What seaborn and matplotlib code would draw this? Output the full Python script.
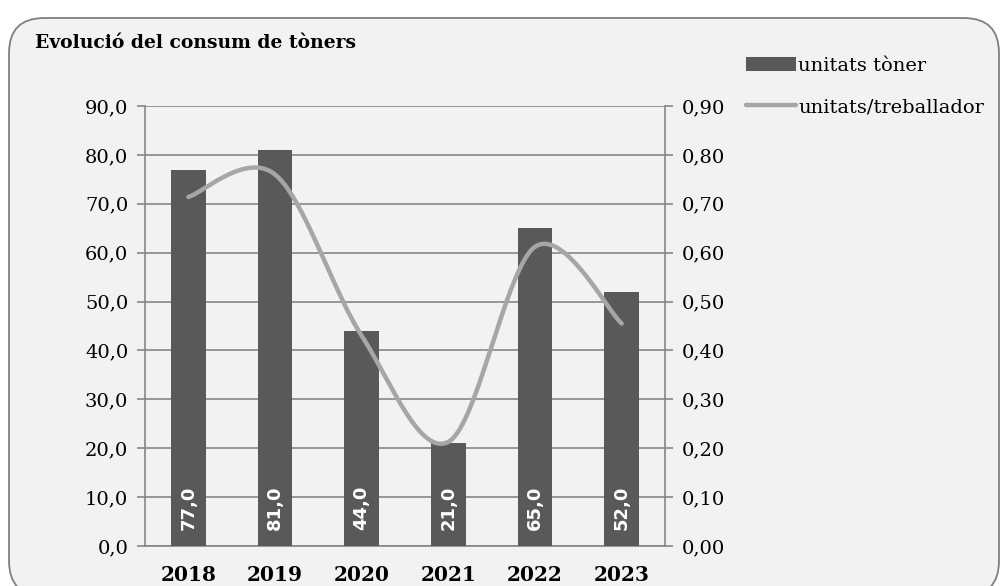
import matplotlib
matplotlib.use("Agg")
import matplotlib.pyplot as plt
from matplotlib.patches import FancyBboxPatch, Patch
from matplotlib.lines import Line2D
import seaborn as sns
import numpy as np
import pandas as pd

years = ["2018", "2019", "2020", "2021", "2022", "2023"]
toner_units = [77.0, 81.0, 44.0, 21.0, 65.0, 52.0]
units_per_worker = [0.714, 0.76, 0.43, 0.213, 0.612, 0.455]

left_ticks = np.arange(0, 91, 10)
right_ticks = np.arange(0, 0.91, 0.1)

BAR_COLOR = "#595959"
LINE_COLOR = "#a6a6a6"
GRID_COLOR = "#868686"
SERIF = "DejaVu Serif"


def smooth_curve(xs, ys, n=40):
    """Excel-like smoothed line: cubic bezier with catmull-rom tangents"""
    pts = np.column_stack([xs, ys]).astype(float)
    ext = np.vstack([pts[0], pts, pts[-1]])
    out = []
    for i in range(len(pts) - 1):
        p0, p1, p2, p3 = ext[i], ext[i + 1], ext[i + 2], ext[i + 3]
        c1 = p1 + (p2 - p0) / 6.0
        c2 = p2 - (p3 - p1) / 6.0
        t = np.linspace(0, 1, n)[:, None]
        seg = ((1 - t) ** 3) * p1 + 3 * ((1 - t) ** 2) * t * c1 \
            + 3 * (1 - t) * t ** 2 * c2 + t ** 3 * p2
        out.append(seg if i == 0 else seg[1:])
    return np.vstack(out)


sns.set_theme(style="white")
plt.rcParams["font.family"] = [SERIF, "DejaVu Sans"]
plt.rcParams["text.color"] = "black"
plt.rcParams["xtick.color"] = "black"
plt.rcParams["ytick.color"] = "black"

fig = plt.figure(figsize=(10.04, 5.86), dpi=100)
fig.patch.set_facecolor("white")

frame = FancyBboxPatch((9 / 1004, -10 / 586), 990 / 1004, 578 / 586,
                       boxstyle="round,pad=0,rounding_size=0.035",
                       transform=fig.transFigure, facecolor="#f2f2f2",
                       edgecolor="#7f7f7f", linewidth=1.3, zorder=-5,
                       mutation_aspect=1004 / 586)
fig.patches.append(frame)

ax = fig.add_axes([145 / 1004, 1 - 546 / 586, 520 / 1004, 440 / 586])
ax.set_facecolor("none")
ax.set_zorder(2)

df = pd.DataFrame({"year": years, "toner": toner_units})
sns.barplot(data=df, x="year", y="toner", color=BAR_COLOR, saturation=1,
            width=0.4, linewidth=0, ax=ax, zorder=3)
ax.set_xlim(-0.5, len(years) - 0.5)
ax.set_ylim(0, 90)
ax.set_yticks(left_ticks)
ax.set_yticklabels([f"{v:.1f}".replace(".", ",") for v in left_ticks],
                   fontsize=14)
ax.set_xlabel("")
ax.set_ylabel("")
ax.set_xticks(np.arange(len(years)))
ax.set_xticklabels(years, fontsize=14.5, fontweight="bold")
ax.tick_params(axis="x", length=0, pad=14)
ax.set_xticks(np.arange(-0.5, len(years)), minor=True)
ax.tick_params(axis="x", which="minor", length=6, color=GRID_COLOR,
               width=1.2, direction="out")
ax.tick_params(axis="y", length=6, color=GRID_COLOR, labelcolor="black",
               width=1.2, direction="out", pad=6)
ax.grid(axis="y", color=GRID_COLOR, linewidth=1.2, zorder=0)
ax.set_axisbelow(True)
for side in ["top", "right"]:
    ax.spines[side].set_visible(False)
for side in ["left", "bottom"]:
    ax.spines[side].set_color(GRID_COLOR)
    ax.spines[side].set_linewidth(1.2)

for i, v in enumerate(toner_units):
    ax.text(i, 3.2, f"{v:.1f}".replace(".", ","), rotation=90, ha="center",
            va="bottom", color="white", fontsize=13, fontweight="bold",
            family="DejaVu Sans", zorder=4)

ax2 = ax.twinx()
ax2.set_zorder(3)
ax2.set_facecolor("none")
curve = smooth_curve(np.arange(len(years)), units_per_worker)
sns.lineplot(x=curve[:, 0], y=curve[:, 1], sort=False, color=LINE_COLOR,
             linewidth=3.2, ax=ax2, zorder=5)
ax2.set_xlim(-0.5, len(years) - 0.5)
ax2.set_ylim(0, 0.9)
ax2.set_yticks(right_ticks)
ax2.set_yticklabels([f"{v:.2f}".replace(".", ",") for v in right_ticks],
                    fontsize=14)
ax2.tick_params(axis="y", length=6, color=GRID_COLOR, labelcolor="black",
                width=1.2, direction="out", pad=6)
for side in ["top", "left", "bottom"]:
    ax2.spines[side].set_visible(False)
ax2.spines["right"].set_color(GRID_COLOR)
ax2.spines["right"].set_linewidth(1.2)
ax2.grid(False)

fig.text(35 / 1004, 1 - 43 / 586, "Evolució del consum de tòners",
         fontsize=13.5, fontweight="bold", va="center", ha="left")

handles = [Patch(facecolor=BAR_COLOR, edgecolor="none"),
           Line2D([0], [0], color=LINE_COLOR, linewidth=3.2)]
fig.legend(handles, ["unitats tòner", "unitats/treballador"],
           loc="upper left", bbox_to_anchor=(738 / 1004, 1 - 49 / 586),
           frameon=False, fontsize=14, handlelength=2.6, handletextpad=0.1,
           labelspacing=1.2, borderaxespad=0)

fig.savefig("out.png", dpi=100, facecolor="white")
